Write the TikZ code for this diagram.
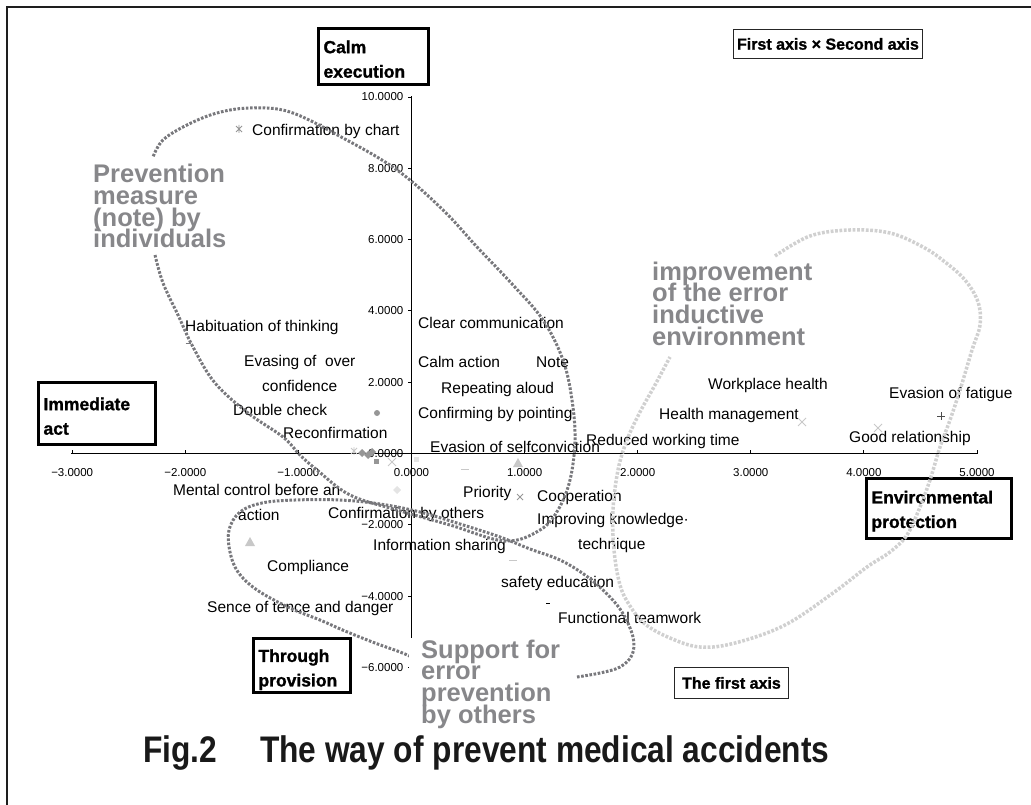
\documentclass[tikz,border=0pt]{standalone}
\usepackage{fontspec}
\setmainfont{Liberation Sans}
\newfontfamily\heavyfont[FakeBold=1.2]{Liberation Sans Bold}
\usepackage{graphicx}
\definecolor{dotdark}{RGB}{120,120,124}
\definecolor{dotlight}{RGB}{208,208,208}
\definecolor{regiongray}{RGB}{135,135,138}
\definecolor{framec}{RGB}{30,30,30}
\definecolor{mkgray}{RGB}{150,150,150}
\definecolor{mklight}{RGB}{200,200,200}
\definecolor{mkpale}{RGB}{228,228,228}
\definecolor{capc}{RGB}{25,25,25}
\newcommand{\toprule}{\rule{0pt}{18pt}}
\newcommand{\noskiplim}{\lineskiplimit -50pt\relax}
\tikzset{
 datalabel/.style={anchor=base west, inner sep=0pt, font=\fontsize{15.5}{18}\selectfont},
 ticklab/.style={inner sep=0pt, font=\fontsize{11.5}{13}\selectfont},
 bigbox/.style={draw=black, line width=2.8pt, anchor=north west, outer sep=0pt, inner xsep=5pt, inner ysep=0pt, align=left, font=\fontsize{17.5}{24.5}\selectfont\heavyfont},
 thinbox/.style={draw=black!85, line width=1.3pt, anchor=north west, outer sep=0pt, inner sep=0pt, font=\fontsize{16}{18}\selectfont\heavyfont},
 regionlabel/.style={anchor=north west, fill=white, inner sep=2pt, align=left, text=regiongray, font=\fontsize{25.5}{21.7}\selectfont\bfseries\noskiplim},
 darkdots/.style={draw=dotdark, line width=3pt, dash pattern=on 2.6pt off 1.6pt},
 lightdots/.style={draw=dotlight, line width=3.5pt, dash pattern=on 2.8pt off 1.6pt},
 axisline/.style={draw=black, line width=0.9pt},
}
\begin{document}
\begin{tikzpicture}[x=1pt,y=-1pt]
\useasboundingbox (0,0) rectangle (1031,805);
% frame
\draw[framec, line width=2.2pt] (7,805) -- (7,7) -- (1031,7);
% axes
\draw[axisline] (71.2,453.5) -- (977,453.5);
\draw[axisline] (411.5,96.5) -- (411.5,667.5);
\foreach \v in {-3,...,5} \draw[axisline] ({411.5+113.1*\v},453.5) -- ++(0,-4);
\foreach \v in {-6,-4,...,10} \draw[axisline] (411.5,{453.5-35.65*\v}) -- ++(-4,0);
% tick labels
\foreach \v/\t [count=\i] in {-3/−3.0000,-2/−2.0000,-1/−1.0000,0/0.0000,1/1.0000,2/2.0000,3/3.0000,4/4.0000,5/5.0000}
  \node[ticklab] (xl\i) at ({411.5+113.1*\v},473) {\t};
\foreach \v/\t [count=\i] in {10/10.0000,8/8.0000,6/6.0000,4/4.0000,2/2.0000,0/0.0000,-2/−2.0000,-4/−4.0000,-6/−6.0000}
  \node[ticklab, anchor=east] (yl\i) at (403.5,{453.5-35.65*\v}) {\t};
% data labels
\node[datalabel] (d1) at (252,136) {Confirmation by chart};
\node[datalabel] (d2) at (185,331) {Habituation of thinking};
\node[datalabel] (d3) at (244,366) {Evasing of~ over};
\node[datalabel] (d4) at (262,391) {confidence};
\node[datalabel] (d5) at (233,415) {Double check};
\node[datalabel] (d6) at (283,438) {Reconfirmation};
\node[datalabel] (d7) at (418,328) {Clear communication};
\node[datalabel] (d8) at (418,367) {Calm action};
\node[datalabel] (d9) at (536,367) {Note};
\node[datalabel] (d10) at (441,393) {Repeating aloud};
\node[datalabel] (d11) at (418,418) {Confirming by pointing};
\node[datalabel] (d12) at (430,452) {Evasion of selfconviction};
\node[datalabel] (d13) at (586,445) {Reduced working time};
\node[datalabel] (d14) at (463,497) {Priority};
\node[datalabel] (d15) at (537,501) {Cooperation};
\node[datalabel] (d16) at (537,524) {Improving knowledge·};
\node[datalabel] (d17) at (578,549) {technique};
\node[datalabel] (d18) at (173,495) {Mental control before an};
\node[datalabel] (d19) at (238,520) {action};
\node[datalabel] (d20) at (328,518) {Confirmation by others};
\node[datalabel] (d21) at (373,550) {Information sharing};
\node[datalabel] (d22) at (267,571) {Compliance};
\node[datalabel] (d23) at (207,612) {Sence of tence and danger};
\node[datalabel] (d24) at (501,587) {safety education};
\node[datalabel] (d25) at (558,623) {Functional teamwork};
\node[datalabel] (d26) at (708,389) {Workplace health};
\node[datalabel] (d27) at (659,419) {Health management};
\node[datalabel] (d28) at (889,398) {Evasion of fatigue};
\node[datalabel] (d29) at (849,442) {Good relationship};
% markers
\draw[mkgray, line width=0.8pt] (236,126)--(242,132) (236,132)--(242,126) (239,125)--(239,133);
\draw[dotdark, line width=1pt] (185.5,343)--(190.5,343);
\fill[mkgray] (377,413) circle (3);
\draw[mklight, line width=0.8pt] (351,448)--(357,454) (351,454)--(357,448) (354,447)--(354,455);
\fill[mkgray] (362,449)--(366,453)--(362,457)--(358,453)--cycle;
\fill[mkgray] (368,451)--(372,455)--(368,459)--(364,455)--cycle;
\fill[mkgray] (372,448)--(376,452)--(372,456)--(368,452)--cycle;
\fill[mkgray] (373.5,458.5) rectangle (378.5,463.5);
\draw[mklight, line width=0.8pt] (388,458)--(396,466) (388,466)--(396,458);
\fill[mkpale] (413.5,456.5) rectangle (418.5,461.5);
\fill[mkpale] (397,486)--(401,490)--(397,494)--(393,490)--cycle;
\draw[mklight, line width=1pt] (461,469)--(469,469);
\fill[mklight] (518,458)--(523,467)--(513,467)--cycle;
\draw[mkgray, line width=0.8pt] (517,494)--(523,500) (517,500)--(523,494);
\fill[mklight] (250,537)--(255,546)--(245,546)--cycle;
\draw[mklight, line width=1pt] (509,560)--(517,560);
\draw[black, line width=1pt] (546,603)--(550,603);
\draw[mklight, line width=0.8pt] (798,418)--(806,426) (798,426)--(806,418);
\draw[mklight, line width=0.8pt] (874,424)--(882,432) (874,432)--(882,424);
\draw[black!70, line width=0.8pt] (937,416)--(945,416) (941,412)--(941,420);
% boxes
\node[bigbox, minimum width=110pt, minimum height=56pt, text width=100pt] (calm) at (318.5,28.5) {\toprule Calm\\execution};
\node[bigbox, minimum width=117pt, minimum height=62pt, text width=107pt] (immed) at (38.5,382.5) {\toprule Immediate\\act};
\node[bigbox, minimum width=145pt, minimum height=60pt, text width=135pt] (envp) at (866.5,478.5) {\toprule Environmental\\protection};
\node[bigbox, minimum width=97pt, minimum height=54pt, text width=87pt] (thru) at (253.5,638.5) {\rule{0pt}{21pt}Through\\provision};
\node[thinbox, minimum width=188.5pt, minimum height=28.5pt] (fxs) at (733.7,29.7) {First axis × Second axis};
\node[thinbox, minimum width=113.5pt, minimum height=30.5pt] (tfa) at (674.7,667.7) {The first axis};
% dotted regions
\draw[lightdots] plot[smooth, tension=0.6] coordinates {(775,256) (810,236) (850,230) (890,233) (923,247) (945,262) (965,280) (978,302) (980,325) (972,350) (960,390) (950,420) (940,447) (930,480) (920,507) (907,535) (890,552) (867,567) (833,593) (785,625) (735,643) (700,647) (670,638) (645,624) (630,606) (620,585) (614,550) (613,510) (618,470) (627,440) (640,412) (655,385) (670,357)};
\draw[darkdots] plot[smooth, tension=0.6] coordinates {(155,255) (163,283) (178,315) (193,347) (215,383) (248,413) (283,437) (300,455) (317,470) (350,495) (397,510) (450,525) (505,541) (540,530) (558,510) (570,480) (575,440) (572,400) (563,360) (543,320) (513,285) (477,247) (443,210) (397,170) (343,138) (290,112) (250,108) (217,113) (187,125) (163,140) (153,157)};
\draw[darkdots] plot[smooth, tension=0.6] coordinates {(577,677) (600,673) (620,667) (632,655) (633,637) (622,612) (605,592) (585,575) (560,560) (530,549) (500,537) (460,524) (420,512) (380,504) (340,500) (295,500) (262,503) (240,512) (229,530) (230,552) (238,572) (257,590) (290,608) (320,620) (345,631) (375,643) (400,652) (414,658)};
% region labels
\node[regionlabel] (prev) at (91,162) {Prevention\\measure\\(note) by\\individuals};
\node[regionlabel] (impr) at (650,259.5) {improvement\\of the error\\inductive\\environment};
\node[regionlabel, inner xsep=12pt] (supp) at (409,637.4) {Support for\\error\\prevention\\by others};
% caption
\node[anchor=base west, inner sep=0pt, text=capc] (caption) at (143,762) {\scalebox{0.857}[1]{\fontsize{37}{40}\selectfont\bfseries Fig.2\hspace{50pt}The way of prevent medical accidents}};
\end{tikzpicture}
\end{document}
